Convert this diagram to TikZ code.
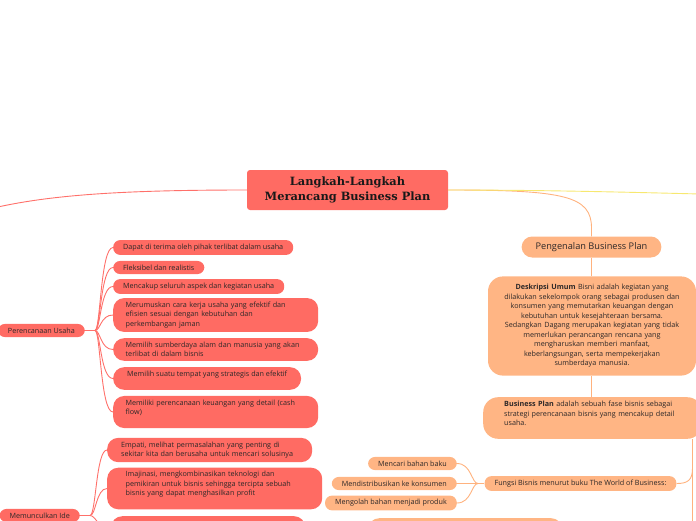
\documentclass[tikz,border=0pt]{standalone}
\usepackage{fontspec}
\setmainfont{Open Sans}
\newfontfamily\judulfont{DejaVu Serif}
\usepackage{tikz}
\usetikzlibrary{positioning, calc}
\definecolor{mmmerah}{RGB}{255,107,99}
\definecolor{mmoranye}{RGB}{255,181,132}
\definecolor{gsmerah}{RGB}{255,112,106}
\definecolor{gsoranye}{RGB}{255,178,126}
\definecolor{gskuning}{RGB}{247,232,112}
\definecolor{teksgelap}{RGB}{45,40,40}

\begin{document}
\begin{tikzpicture}[x=1pt, y=-1pt,
    teks/.style={font=\fontsize{7.2}{9.5}\selectfont, text=teksgelap},
    merah/.style={teks, fill=mmmerah, rounded corners=7pt, inner xsep=10pt, inner ysep=3.8pt, align=left},
    merahlebar/.style={merah, rounded corners=11pt, inner xsep=12.5pt, text width=180pt},
    oranye/.style={teks, fill=mmoranye, rounded corners=7pt, inner xsep=10pt, inner ysep=3.8pt, align=center},
    judul/.style={fill=mmmerah, rounded corners=3pt, align=center, minimum width=201pt, minimum height=40pt,
                  font=\judulfont\bfseries\fontsize{11.4}{14.5}\selectfont, text=black!90},
    gmerah/.style={draw=gsmerah, line width=0.9pt},
    goranye/.style={draw=gsoranye, line width=0.9pt},
    gkuning/.style={draw=gskuning, line width=0.9pt}
  ]
    \path[use as bounding box, clip] (0,0) rectangle (696,520);

    % pusat
    \node[judul] (judul) at (347.5,190) {Langkah-Langkah\\Merancang Business Plan};
    \coordinate (kiri) at (-15,210);
    \coordinate (kanan) at (700,194);

    % cabang kiri
    \node[merah, anchor=east] (rencana) at (85,330.5) {Perencanaan Usaha};
    \node[merah, anchor=west] (r1) at (113,247.5) {Dapat di terima oleh pihak terlibat dalam usaha};
    \node[merah, anchor=west] (r2) at (113,267.5) {Fleksibel dan realistis};
    \node[merah, anchor=west] (r3) at (113,286.5) {Mencakup seluruh aspek dan kegiatan usaha};
    \node[merahlebar, anchor=west] (r4) at (113,315) {Merumuskan cara kerja usaha yang efektif dan\\efisien sesuai dengan kebutuhan dan\\perkembangan jaman};
    \node[merahlebar, anchor=west] (r5) at (113,349.5) {Memilih sumberdaya alam dan manusia yang akan\\terlibat di dalam bisnis};
    \node[merah, rounded corners=11pt, inner xsep=14pt, anchor=west] (r6) at (113,378.5) {Memilih suatu tempat yang strategis dan efektif\\\mbox{}};
    \node[merahlebar, anchor=west] (r7) at (113,412) {Memiliki perencanaan keuangan yang detail (cash\\flow)\\\mbox{}};

    \node[merah, anchor=east] (ide) at (80,515.5) {Memunculkan Ide};
    \node[merahlebar, inner xsep=14pt, text width=177pt, anchor=west] (i1) at (107,450) {Empati, melihat permasalahan yang penting di\\sekitar kita dan berusaha untuk mencari solusinya};
    \node[merahlebar, inner xsep=18.5pt, text width=178pt, anchor=west] (i2) at (107,488.5) {Imajinasi, mengkombinasikan teknologi dan\\pemikiran untuk bisnis sehingga tercipta sebuah\\bisnis yang dapat menghasilkan profit\\\mbox{}};
    \node[merah, rounded corners=11pt, minimum width=194pt, minimum height=30pt, anchor=north west] (i3) at (111,516) {};

    \coordinate (rj) at (95,330.5);
    \coordinate (rx) at (100.5,0);
    \draw[gmerah] (rencana.east) -- (rj);
    \foreach \n in {r1,r2,r3,r4,r5,r6,r7}
      \draw[gmerah] (rj) .. controls (rj -| rx) and (\n.west -| rx) .. (\n.west);
    \coordinate (ij) at (90,515.5);
    \coordinate (ix) at (96,0);
    \draw[gmerah] (ide.east) -- (ij);
    \foreach \n in {i1,i2}
      \draw[gmerah] (ij) .. controls (ij -| ix) and (\n.west -| ix) .. (\n.west);
    \draw[gmerah] (ij) .. controls (ij -| ix) and ($(i3.north west)+(-12,14)$) .. ($(i3.north west)+(0,14)$);

    % cabang kanan
    \node[oranye, font=\fontsize{9.2}{11}\selectfont, rounded corners=10.5pt, minimum height=21pt, inner xsep=14pt] (kenal) at (591.5,247) {Pengenalan Business Plan};
    \node[oranye, rounded corners=15pt, inner xsep=12pt, inner ysep=8pt, text width=184pt] (deskripsi) at (592,326) {\textbf{Deskripsi Umum} Bisni adalah kegiatan yang\\dilakukan sekelompok orang sebagai produsen dan\\konsumen yang memutarkan keuangan dengan\\kebutuhan untuk kesejahteraan bersama.\\Sedangkan Dagang merupakan kegiatan yang tidak\\memerlukan perancangan rencana yang\\mengharuskan memberi manfaat,\\keberlangsungan, serta mempekerjakan\\sumberdaya manusia.};
    \node[oranye, align=left, rounded corners=15pt, inner xsep=21pt, text width=177pt, anchor=west] (bp) at (483,418) {\textbf{Business Plan} adalah sebuah fase bisnis sebagai\\strategi perencanaan bisnis yang mencakup detail\\usaha.\\\mbox{}};
    \node[oranye] (fungsi) at (580.5,483.5) {Fungsi Bisnis menurut buku The World of Business:};
    \node[oranye, anchor=east] (f1) at (457,463.5) {Mencari bahan baku};
    \node[oranye, anchor=east] (f2) at (457,483.5) {Mendistribusikan ke konsumen};
    \node[oranye, anchor=east] (f3) at (457,503) {Mengolah bahan menjadi produk};
    \node[oranye, rounded corners=11pt, minimum width=194pt, minimum height=30pt, anchor=north west] (bawah) at (368,518) {};

    \coordinate (fj) at (478,483.5);
    \coordinate (fx) at (471.5,0);
    \draw[goranye] (fungsi.west) -- (fj);
    \foreach \n in {f1,f2,f3}
      \draw[goranye] (fj) .. controls (fj -| fx) and (\n.east -| fx) .. (\n.east);

    \coordinate (ta) at (692.5,439);
    \coordinate (tb) at (692.5,468);
    \coordinate (tc) at (692.5,525);
    \draw[goranye] (ta) -- (tb) -- (tc);
    \draw[goranye] (tb) .. controls (692.5,480) and (688,483.5) .. (fungsi.east);

    \draw[goranye] (judul.east) .. controls (565,190) and (591.5,196) .. (591.5,228) -- (kenal.north);
    \draw[goranye] (kenal.south) -- (deskripsi.north -| kenal.south);
    \draw[goranye] (deskripsi.south -| kenal.south) -- (bp.north -| kenal.south);

    % garis utama
    \draw[gmerah] (judul.west) .. controls (120,190) and (45,195) .. (kiri);
    \draw[gkuning] (judul.east) .. controls (540,190) and (620,192) .. (kanan);
  \end{tikzpicture}
\end{document}
